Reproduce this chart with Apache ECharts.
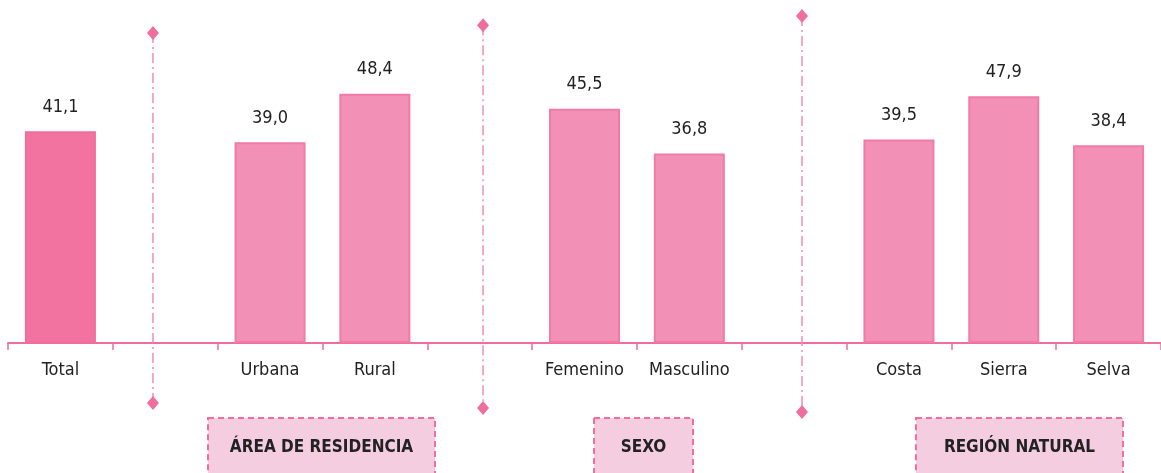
<!DOCTYPE html>
<html>
<head>
<meta charset="utf-8">
<style>
html, body {margin: 0; padding: 0; background: #fff;}
#chart {width: 1161px; height: 473px;}
</style>
</head>
<body>
<div id="chart"></div>
<script src="https://cdn.jsdelivr.net/npm/echarts@6/dist/echarts.min.js"></script>
<script>
// categorias (las vacias separan los grupos)
var categories = ['Total', '', 'Urbana', 'Rural', '', 'Femenino', 'Masculino', '', 'Costa', 'Sierra', 'Selva'];
var values = [41.1, null, 39.0, 48.4, null, 45.5, 36.8, null, 39.5, 47.9, 38.4];

// separadores verticales (en unidades de los ejes)
var dividerX = [0.883, 4.032, 7.075];
var dividerTop = [60.2, 61.7, 63.5];
var dividerBottom = [-11.65, -12.6, -13.4];

// cajas de grupo
var groupNames = ['ÁREA DE RESIDENCIA', 'SEXO', 'REGIÓN NATURAL'];
var groupFrom = [1.408, 5.091, 8.162];
var groupTo = [3.574, 6.035, 10.137];

var pinkDark = '#f06e9c';
var font = '"DejaVu Sans Condensed", "Liberation Sans Narrow", "Arial Narrow", sans-serif';

var barData = values.map(function (v, i) {
    if (v === null) return '-';
    return {
        value: v,
        itemStyle: i === 0 ? {color: '#f272a0', borderColor: pinkDark} : {color: '#f290b5', borderColor: '#f27aa6'}
    };
});

var dividerData = dividerX.map(function (x, i) { return [x, dividerTop[i], dividerBottom[i]]; });
var groupData = groupNames.map(function (n, i) { return [groupFrom[i], groupTo[i], n]; });

var myChart = echarts.init(document.getElementById('chart'));
var option = {
    animation: false,
    grid: {left: 8, right: 0, top: 34, bottom: 130},
    xAxis: [{
        type: 'category',
        data: categories,
        axisLine: {lineStyle: {color: pinkDark, width: 2}},
        axisTick: {show: true, length: 7, lineStyle: {color: pinkDark, width: 1.5}},
        axisLabel: {color: '#222', fontSize: 18, fontFamily: font, margin: 18, interval: 0}
    }, {
        type: 'value', min: -0.5, max: 10.5, show: false
    }],
    yAxis: {type: 'value', min: 0, max: 60, show: false},
    series: [{
        type: 'bar',
        data: barData,
        barWidth: 71,
        itemStyle: {borderWidth: 2},
        label: {
            show: true,
            position: 'top',
            distance: 15,
            color: '#222',
            fontSize: 18,
            fontFamily: font,
            formatter: function (p) { return p.value.toFixed(1).replace('.', ','); }
        }
    }, {
        type: 'custom',
        xAxisIndex: 1,
        data: dividerData,
        renderItem: function (params, api) {
            var top = api.coord([api.value(0), api.value(1)]);
            var bot = api.coord([api.value(0), api.value(2)]);
            var d = function (p) {
                return {type: 'polygon', shape: {points: [[p[0], p[1] - 7], [p[0] + 6, p[1]], [p[0], p[1] + 7], [p[0] - 6, p[1]]]},
                    style: {fill: pinkDark}};
            };
            return {type: 'group', children: [
                {type: 'line', shape: {x1: top[0], y1: top[1], x2: bot[0], y2: bot[1]},
                    style: {stroke: '#f48db4', lineWidth: 1.5, lineDash: [10, 4, 2, 4]}},
                d(top), d(bot)
            ]};
        }
    }, {
        type: 'custom',
        xAxisIndex: 1,
        data: groupData,
        renderItem: function (params, api) {
            var a = api.coord([api.value(0), -14.56]);
            var b = api.coord([api.value(1), -27]);
            var name = groupNames[params.dataIndex];
            return {type: 'group', children: [
                {type: 'rect', shape: {x: a[0], y: a[1], width: b[0] - a[0], height: b[1] - a[1]},
                    style: {fill: '#f5cde0', stroke: pinkDark, lineWidth: 2, lineDash: [6, 4]}},
                {type: 'text', style: {text: name, x: (a[0] + b[0]) / 2, y: a[1] + 30, align: 'center', verticalAlign: 'middle',
                    fill: '#222', fontSize: 17, fontWeight: 'bold', fontFamily: font}}
            ]};
        }
    }]
};
myChart.setOption(option);
</script>
</body>
</html>
